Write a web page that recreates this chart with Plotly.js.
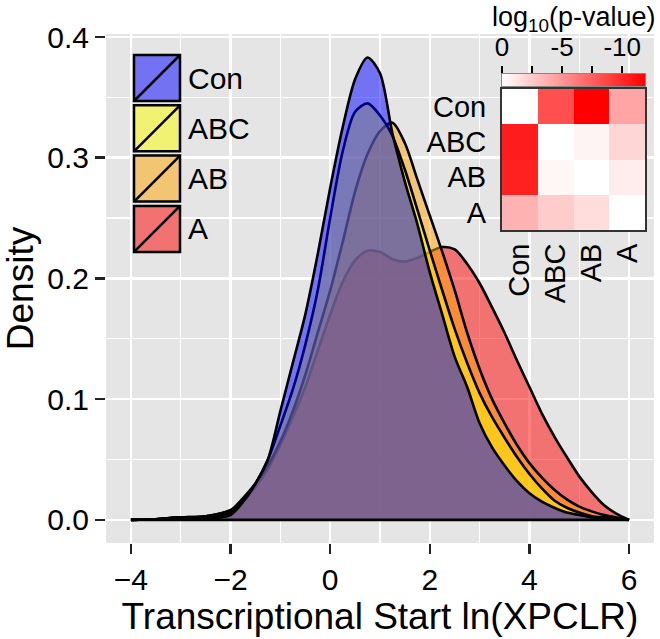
<!DOCTYPE html>
<html><head><meta charset="utf-8">
<script src="https://cdn.plot.ly/plotly-3.0.1.min.js"></script>
<style>html,body{margin:0;padding:0;background:#fff;} #chart{width:660px;height:639px;}</style>
</head><body><div id="chart"></div>
<script>
// ---- data ----
const xGrid = [-4, -3.5, -3, -2.5, -2, -1.75, -1.5, -1.25, -1, -0.75, -0.5, -0.25, 0, 0.25, 0.5, 0.75, 1, 1.25, 1.5, 1.75, 2, 2.25, 2.5, 2.75, 3, 3.25, 3.5, 3.75, 4, 4.25, 4.5, 4.75, 5, 5.25, 5.5, 5.75, 6];
const densCon = [0, 0.0005, 0.002, 0.001, 0.004, 0.015, 0.03, 0.05, 0.09, 0.13, 0.17, 0.22, 0.275, 0.325, 0.365, 0.383, 0.37, 0.32, 0.28, 0.245, 0.205, 0.17, 0.135, 0.11, 0.08, 0.06, 0.045, 0.032, 0.022, 0.015, 0.01, 0.006, 0.004, 0.002, 0.001, 0.0005, 0];
const densABC = [0, 0.0005, 0.002, 0.002, 0.006, 0.015, 0.03, 0.05, 0.078, 0.108, 0.145, 0.19, 0.25, 0.305, 0.338, 0.345, 0.335, 0.318, 0.29, 0.257, 0.223, 0.19, 0.158, 0.13, 0.105, 0.085, 0.068, 0.052, 0.038, 0.026, 0.016, 0.01, 0.006, 0.003, 0.002, 0.001, 0];
const densAB = [0, 0.0005, 0.002, 0.003, 0.008, 0.018, 0.03, 0.045, 0.065, 0.09, 0.12, 0.155, 0.19, 0.23, 0.272, 0.303, 0.322, 0.329, 0.312, 0.282, 0.252, 0.222, 0.19, 0.155, 0.125, 0.1, 0.08, 0.062, 0.047, 0.035, 0.025, 0.017, 0.011, 0.007, 0.004, 0.002, 0];
const densA = [0, 0.0005, 0.002, 0.003, 0.008, 0.015, 0.027, 0.042, 0.062, 0.085, 0.11, 0.14, 0.17, 0.197, 0.215, 0.223, 0.222, 0.216, 0.214, 0.217, 0.222, 0.226, 0.224, 0.212, 0.196, 0.176, 0.155, 0.132, 0.11, 0.088, 0.069, 0.052, 0.036, 0.023, 0.012, 0.005, 0];
const groupNames = ['Con', 'ABC', 'AB', 'A'];
const groupFill = ['rgba(0,0,255,0.5)', 'rgba(255,255,0,0.5)', 'rgba(255,165,0,0.5)', 'rgba(255,0,0,0.5)'];
const xTicks = [-4, -2, 0, 2, 4, 6];
const yTicks = [0, 0.1, 0.2, 0.3, 0.4];
const heatLabels = ['Con', 'ABC', 'AB', 'A'];
const log10P = [
  [0, -8.2, -11.9, -4.2],
  [-10.6, 0, -0.5, -1.9],
  [-10.4, -0.4, 0, -0.9],
  [-3.6, -2.4, -1.6, 0]
];
const cbRange = [0, -11.9];          // colour-bar extent, log10(p)
const cbTickVals = [0, -5, -10];
const cbTickText = ['0', '-5', '-10'];

// ---- layout helpers ----
const W = 660, H = 639, M = {l: 106, r: 6, t: 34, b: 96};
const pw = W - M.l - M.r, ph = H - M.t - M.b;
const px = v => (v - M.l) / pw;
const py = v => 1 - (v - M.t) / ph;
const FONT = 'Liberation Sans, Arial, Helvetica, sans-serif';
const neg = v => -v;

const series = [densCon, densABC, densAB, densA];
const traces = [];
for (let i = series.length - 1; i >= 0; i--) {
  traces.push({
    type: 'scatter', mode: 'lines', x: xGrid, y: series[i],
    fill: 'tozeroy', fillcolor: groupFill[i],
    line: {color: '#000', width: 2.6, shape: 'spline', smoothing: 0.8},
    name: groupNames[i], showlegend: false, hoverinfo: 'skip'
  });
}
// common baseline of the density polygons
traces.push({type: 'scatter', mode: 'lines', x: [xGrid[0], xGrid[xGrid.length - 1]], y: [0, 0],
  line: {color: '#000', width: 2.6}, showlegend: false, hoverinfo: 'skip'});

const cscale = [[0, '#ffffff'], [1, '#ff0000']];
const zTop = neg(cbRange[1]);
// inset p-value heatmap
traces.push({
  type: 'heatmap', x: heatLabels, y: heatLabels,
  z: log10P.map(r => r.map(neg)),
  xaxis: 'x2', yaxis: 'y2', zmin: 0, zmax: zTop,
  colorscale: cscale, showscale: false, hoverinfo: 'skip'
});
// its colour bar (drawn as a smoothed 2-cell heatmap spanning the bar extent)
traces.push({
  type: 'heatmap', x: cbRange.map(neg), y: [0], z: [cbRange.map(neg)],
  xaxis: 'x3', yaxis: 'y3', zmin: 0, zmax: zTop, zsmooth: 'best',
  colorscale: cscale, showscale: false, hoverinfo: 'skip'
});

const shapes = [], annotations = [];
groupNames.forEach((g, i) => {
  const top = 55 + i * 50.3, bot = top + 46;
  shapes.push({type: 'rect', xref: 'paper', yref: 'paper', x0: px(134), x1: px(180), y0: py(bot), y1: py(top), fillcolor: '#e5e5e5', line: {width: 0}});
  shapes.push({type: 'rect', xref: 'paper', yref: 'paper', x0: px(134), x1: px(180), y0: py(bot), y1: py(top), fillcolor: groupFill[i], line: {color: '#000', width: 2.5}});
  shapes.push({type: 'line', xref: 'paper', yref: 'paper', x0: px(134), x1: px(180), y0: py(bot), y1: py(top), line: {color: '#000', width: 2.5}});
  annotations.push({xref: 'paper', yref: 'paper', x: px(186), y: py((top + bot) / 2), xanchor: 'left', yanchor: 'middle', text: g, showarrow: false, font: {size: 30, color: '#000'}});
});
annotations.push({xref: 'paper', yref: 'paper', x: px(573.5), y: py(19), xanchor: 'center', yanchor: 'middle',
  text: 'log<sub>10</sub>(p-value)', showarrow: false, font: {size: 27, color: '#000'}});

const layout = {
  width: W, height: H, margin: M,
  paper_bgcolor: '#ffffff', plot_bgcolor: '#e5e5e5',
  font: {family: FONT, color: '#000'},
  showlegend: false,
  xaxis: {
    range: [-4.5, 6.5], tickmode: 'array', tickvals: xTicks,
    ticks: 'outside', ticklen: 10, tickwidth: 2.5, tickcolor: '#222',
    tickfont: {size: 30}, showgrid: true, gridcolor: '#ffffff', gridwidth: 2.5,
    zeroline: false, showline: false,
    minor: {tick0: -5, dtick: 1, showgrid: true, gridcolor: '#ffffff', gridwidth: 1.2, ticks: ''},
    title: {text: 'Transcriptional Start ln(XPCLR)', font: {size: 37}, standoff: 0}
  },
  yaxis: {
    range: [-0.0192, 0.4025], tickmode: 'array', tickvals: yTicks, tickformat: '.1f',
    ticks: 'outside', ticklen: 10, tickwidth: 2.5, tickcolor: '#222',
    tickfont: {size: 30}, showgrid: true, gridcolor: '#ffffff', gridwidth: 2.5,
    zeroline: false, showline: false,
    minor: {tick0: 0.05, dtick: 0.1, showgrid: true, gridcolor: '#ffffff', gridwidth: 1.2, ticks: ''},
    title: {text: 'Density', font: {size: 37}, standoff: 6}
  },
  xaxis2: {
    domain: [px(502), px(645)], anchor: 'y2', type: 'category',
    tickmode: 'array', tickvals: heatLabels, ticktext: heatLabels,
    showgrid: false, zeroline: false, showline: true, mirror: true, linecolor: '#333', linewidth: 2,
    ticks: '', tickangle: -90, tickfont: {size: 29}, ticklabelstandoff: 0
  },
  yaxis2: {
    domain: [py(230), py(89)], anchor: 'x2', type: 'category', autorange: 'reversed',
    tickmode: 'array', tickvals: heatLabels, ticktext: heatLabels,
    showgrid: false, zeroline: false, showline: true, mirror: true, linecolor: '#333', linewidth: 2,
    ticks: '', tickfont: {size: 29}, ticklabelstandoff: 8
  },
  xaxis3: {
    domain: [px(502), px(645)], anchor: 'y3', side: 'top',
    range: cbRange.map(neg), tickmode: 'array', tickvals: cbTickVals.map(neg), ticktext: cbTickText,
    ticks: 'outside', ticklen: 7, tickwidth: 2, tickcolor: '#000', tickfont: {size: 26},
    minor: {tick0: 0, dtick: 2.5, ticks: 'outside', ticklen: 7, tickwidth: 2, tickcolor: '#000', showgrid: false},
    showgrid: false, zeroline: false, showline: true, mirror: true, linecolor: '#888', linewidth: 1
  },
  yaxis3: {
    domain: [py(86), py(74)], anchor: 'x3', range: [-0.5, 0.5],
    showticklabels: false, ticks: '', showgrid: false, zeroline: false,
    showline: true, mirror: true, linecolor: '#888', linewidth: 1
  },
  shapes: shapes,
  annotations: annotations
};

Plotly.newPlot('chart', traces, layout, {staticPlot: true, displayModeBar: false});
</script>
</body></html>
